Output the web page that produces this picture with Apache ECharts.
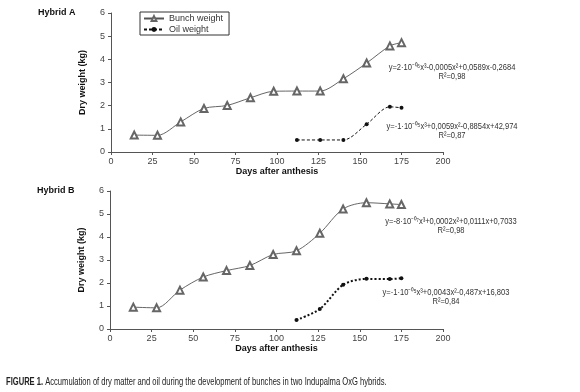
<!DOCTYPE html>
<html>
<head>
<meta charset="utf-8">
<script src="https://cdn.jsdelivr.net/npm/echarts@6/dist/echarts.min.js"></script>
<style>
  html, body { margin: 0; padding: 0; background: #fff; }
  #chart { width: 580px; height: 392px; }
</style>
</head>
<body>
<div id="chart"></div>
<script>
var days = [14, 28, 42, 56, 70, 84, 98, 112, 126, 140, 154, 168, 175];
var oilDays = [112, 126, 140, 154, 168, 175];
var bunchA = [0.73, 0.72, 1.30, 1.88, 2.01, 2.34, 2.62, 2.63, 2.63, 3.16, 3.84, 4.58, 4.72];
var oilA = [0.52, 0.52, 0.52, 1.20, 1.95, 1.91];
var bunchB = [0.95, 0.92, 1.69, 2.26, 2.54, 2.76, 3.24, 3.40, 4.16, 5.22, 5.49, 5.44, 5.41];
var oilB = [0.39, 0.87, 1.92, 2.18, 2.17, 2.21];
var eqs = [
    ['y=2·10⁻⁰⁶x³-0,0005x²+0,0589x-0,2684', 'R²=0,98', 452, 68],
    ['y=-1·10⁻⁰⁵x³+0,0059x²-0,8854x+42,974', 'R²=0,87', 452, 127],
    ['y=-8·10⁻⁰⁷x³+0,0002x²+0,0111x+0,7033', 'R²=0,98', 451, 222],
    ['y=-1·10⁻⁰⁵x³+0,0043x²-0,487x+16,803', 'R²=0,84', 446, 293]
];

var font = "'Liberation Sans', Arial, sans-serif";

function pairs(xs, ys) {
    return xs.map(function (x, i) { return [x, ys[i]]; });
}

var myChart = echarts.init(document.getElementById('chart'));

function xAxisFor(gi) {
    return {
        gridIndex: gi, type: 'value', min: 0, max: 200, interval: 25,
        name: 'Days after anthesis', nameLocation: 'middle', nameGap: 12,
        nameTextStyle: { fontFamily: font, fontWeight: 'bold', fontSize: 9, color: '#111', verticalAlign: 'top' },
        axisLine: { lineStyle: { color: '#555' } },
        axisTick: { length: 3, lineStyle: { color: '#555' } },
        axisLabel: { fontFamily: font, fontSize: 9, color: '#444', margin: 5 },
        splitLine: { show: false }
    };
}
function yAxisFor(gi) {
    return {
        gridIndex: gi, type: 'value', min: 0, max: 6, interval: 1,
        name: 'Dry weight (kg)', nameLocation: 'middle', nameGap: 24,
        nameTextStyle: { fontFamily: font, fontWeight: 'bold', fontSize: 9, color: '#111' },
        axisLine: { show: true, lineStyle: { color: '#555' } },
        axisTick: { show: true, length: 3, lineStyle: { color: '#555' } },
        axisLabel: { fontFamily: font, fontSize: 9, color: '#444', margin: 6 },
        splitLine: { show: false }
    };
}

var graphics = [
    { type: 'text', left: 38, top: 8, style: { text: 'Hybrid A', font: 'bold 9px ' + font, fill: '#111' } },
    { type: 'text', left: 37, top: 186, style: { text: 'Hybrid B', font: 'bold 9px ' + font, fill: '#111' } },
    {
        type: 'text', x: 6, y: 382, scaleX: 0.69,
        style: {
            text: '{b|FIGURE 1.} Accumulation of dry matter and oil during the development of bunches in two Indupalma OxG hybrids.',
            font: '11px ' + font, fill: '#222', verticalAlign: 'middle',
            rich: { b: { fontWeight: 'bold', fontFamily: font, fontSize: 11, fill: '#222' } }
        }
    }
];
eqs.forEach(function (e) {
    graphics.push({ type: 'text', x: e[2], y: e[3], scaleX: 0.84, style: { text: e[0], font: '9px ' + font, fill: '#333', align: 'center', verticalAlign: 'middle' } });
    graphics.push({ type: 'text', x: e[2], y: e[3] + 9, scaleX: 0.84, style: { text: e[1], font: '9px ' + font, fill: '#333', align: 'center', verticalAlign: 'middle' } });
});

var option = {
    animation: false,
    textStyle: { fontFamily: font },
    grid: [
        { left: 111, right: 137, top: 13, height: 139 },
        { left: 110, right: 137, top: 191, height: 138 }
    ],
    xAxis: [xAxisFor(0), xAxisFor(1)],
    yAxis: [yAxisFor(0), yAxisFor(1)],
    legend: {
        orient: 'vertical', left: 140, top: 12,
        borderColor: '#333', borderWidth: 1, padding: [2, 6, 1, 3],
        itemGap: 2, itemWidth: 20, itemHeight: 6,
        textStyle: { fontFamily: font, fontSize: 9, color: '#333' },
        data: ['Bunch weight', 'Oil weight']
    },
    graphic: graphics,
    series: [
        {
            name: 'Bunch weight', type: 'line', xAxisIndex: 0, yAxisIndex: 0,
            data: pairs(days, bunchA), smooth: 0.3,
            symbol: 'emptyTriangle', symbolSize: 7,
            itemStyle: { color: '#666', borderWidth: 0.7 },
            lineStyle: { color: '#555', width: 0.9 }
        },
        {
            name: 'Oil weight', type: 'line', xAxisIndex: 0, yAxisIndex: 0,
            data: pairs(oilDays, oilA), smooth: 0.3,
            symbol: 'circle', symbolSize: 4,
            itemStyle: { color: '#111' },
            lineStyle: { color: '#111', width: 1, type: [3, 2] }
        },
        {
            name: 'Bunch weight', type: 'line', xAxisIndex: 1, yAxisIndex: 1,
            data: pairs(days, bunchB), smooth: 0.3,
            symbol: 'emptyTriangle', symbolSize: 7,
            itemStyle: { color: '#666', borderWidth: 0.7 },
            lineStyle: { color: '#555', width: 0.9 }
        },
        {
            name: 'Oil weight', type: 'line', xAxisIndex: 1, yAxisIndex: 1,
            data: pairs(oilDays, oilB), smooth: 0.3,
            symbol: 'circle', symbolSize: 4,
            itemStyle: { color: '#111' },
            lineStyle: { color: '#111', width: 2, type: [2, 2] }
        }
    ]
};
myChart.setOption(option);
</script>
</body>
</html>
